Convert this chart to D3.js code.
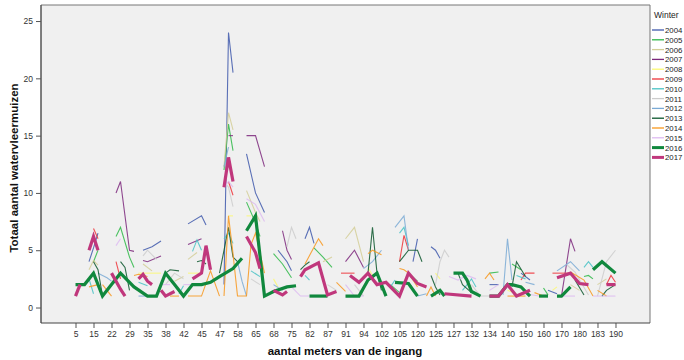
<!DOCTYPE html>
<html lang="en">
<head>
<meta charset="UTF-8">
<title>Totaal aantal watervleermuizen per winter</title>
<script src="https://d3js.org/d3.v7.min.js"></script>
<style>
  body { margin: 0; background: #fff; }
  svg { font-family: "Liberation Sans", Arial, sans-serif; }
  .tick text { fill: #333; font-size: 8.5px; }
  .tick line { stroke: #555; }
</style>
</head>
<body>
<svg width="684" height="360"></svg>
<script>
// labelled distances on the x axis; 3 unlabelled slots sit between every pair
const meters = [5, 15, 22, 29, 35, 38, 42, 45, 47, 58, 65, 68, 75, 82, 87, 91, 94,
                102, 105, 120, 125, 127, 132, 134, 140, 150, 160, 170, 180, 183, 190];
const slotsPerLabel = 4;
const yTicks = [0, 5, 10, 15, 20, 25];

const winters = ["2004", "2005", "2006", "2007", "2008", "2009", "2010",
                 "2011", "2012", "2013", "2014", "2015", "2016", "2017"];
const colors = ["#3e58ac", "#2eb848", "#d3ce97", "#7c287d", "#fbf873", "#ef3338", "#48c2c5",
                "#cccccc", "#7aaad5", "#0a562c", "#f8981d", "#ddbaf1", "#10883d", "#c0377c"];

// per winter: connected runs of [slot, count]
const w2004 = [[[3,4],[4,5.2],[5,6.5]], [[15,5],[17,5.3],[19,5.8]], [[25,7.3],[28,8],[29,7.2]],
  [[33,2],[34,24],[35,20.5]], [[38,13.4],[40,10],[42,8.3]], [[45,5],[47,4],[48,3.2]],
  [[51,6],[52,7],[53,5.6]], [[75,4],[76,6]], [[79,5.3],[80,5],[81,4.3]],
  [[92,2],[94,2]], [[99,3],[101,2.4]], [[105,1.5],[107,1.2]]];
const w2005 = [[[4,4],[5,5]], [[9,6.2],[10,7],[12,4.4],[13,3.5]], [[33,12],[34,16],[35,13.7]],
  [[38,9.2],[40,7.4],[41,6.2]], [[44,4.7],[46,3.8],[48,2.6]], [[53,5.2],[55,4.4],[57,3.5]],
  [[70,2],[72,1.3]], [[74,3],[76,2.3]], [[92,3],[94,3.1]], [[97,3.8],[99,3.3]],
  [[104,1.7],[105,1.1]], [[113,2.7],[114,2.8],[115,2.5]]];
const w2006 = [[[3,3.3],[4,4.1],[5,3.7]], [[15,3.8],[17,3.2]], [[22,2.3],[24,2.7]],
  [[25,4.2],[27,4.8]], [[33,12.3],[34,17],[35,15.5]], [[38,10.2],[40,8.3],[41,7.5]],
  [[55,4],[57,4.4]], [[60,6],[62,7],[64,4]], [[110,2],[112,1.5]], [[116,2],[118,2.5]]];
const w2007 = [[[9,10],[10,11],[12,5],[13,4.9]], [[15,4.1],[16,4],[19,4.5]], [[25,5.5],[28,6]],
  [[34,15],[35,15]], [[38,15],[40,15],[42,12.3]], [[46,6.7],[47,5],[48,4.2]],
  [[60,4],[62,5],[64,3.5]], [[108,1],[110,6],[111,4.9]]];
const w2008 = [[[14,3],[19,3]], [[25,3],[28,3]], [[34,8],[35,8]], [[38,8],[39,8]],
  [[44,2.5],[45,1.8]], [[65,3.5],[66,2.8]], [[80,3],[81,2.5]], [[96,1.5],[98,1.2]],
  [[106,1.5],[107,1.8]]];
const w2009 = [[[4,6.9],[5,6]], [[9,4],[10,2.5]], [[34,11],[35,9.8]], [[59,3],[62,3]],
  [[72,4],[73,6.3],[74,5]], [[99,2.4],[100,3],[102,3]], [[106,3],[110,3]],
  [[118,2],[119,2.8],[120,2.2]]];
const w2010 = [[[3,2.5],[4,1.2]], [[14,2.2],[16,1.9]], [[23,1.2],[24,1.9]],
  [[26,4.9],[27,5.9],[28,5]], [[33,6],[34,6.5],[35,5.6]], [[39,3.2],[41,2.7]],
  [[51,2.8],[52,2.4]], [[70,1.8],[71,2.4]], [[72,6.5],[73,7],[74,5.4]],
  [[86,1.5],[88,2.5],[89,1.8]], [[98,2.8],[100,2.5]], [[113,3.5],[114,4],[115,3.5]]];
const w2011 = [[[15,4.5],[16,5],[18,4.2]], [[20,2],[22,3],[24,2.5]], [[33,11],[34,10.5],[35,8.8]],
  [[39,2.5],[41,2]], [[47,5.3],[48,7],[49,6]], [[56,2],[58,1.5]], [[62,2],[64,1]],
  [[80,2],[81,4],[82,5],[83,4.4]], [[88,2],[90,1],[94,1]], [[109,3.8],[111,3.1],[114,1.1]],
  [[116,1],[118,4],[120,5]]];
const w2012 = [[[5,3],[7,2.6],[8,2.3]], [[14,1],[18,1]], [[33,12.3],[34,14]],
  [[36,4],[37,2.3],[38,1]], [[44,2],[46,1.5]], [[64,3.4],[66,4],[68,5]], [[71,7],[73,8],[74,5]],
  [[76,1],[78,1.2]], [[95,1.1],[96,6],[97,2.4]], [[100,2.2],[102,2]],
  [[107,3.2],[110,4],[112,3.2]]];
const w2013 = [[[4,4],[5,3.3],[6,1]], [[10,4],[11,3.5],[12,1.5]], [[20,3],[21,3.3],[23,3.2]],
  [[27,4],[28,4.1],[29,3.8]], [[32,3],[34,7],[35,4.4],[36,4],[37,4.2]], [[50,3.3],[51,3.7],[52,4]],
  [[65,3],[66,7],[67,3],[68,1.5]], [[72,4],[74,5],[76,5],[77,4]], [[79,2.8],[80,1.8],[81,1.1]],
  [[85,3],[86,2],[88,1.3]], [[97,1.8],[98,4],[100,2.7]], [[111,2.4],[113,1.1]],
  [[117,1],[118,1.5],[120,2]]];
const w2014 = [[[3,1.8],[5,2]], [[6,2],[8,1]], [[13,2.8],[14,2.9],[16,2.7]], [[21,1],[23,1]],
  [[25,1],[28,1],[30,3.2],[32,1]],
  [[33,1],[34,8],[35,4.7],[36,1],[38,1],[39,5.5],[40,6.5],[42,3]],
  [[51,3.8],[54,6],[55,5.4]], [[58,2.2],[60,1.4]], [[65,4.7],[66,5],[68,4.6]],
  [[72,3.4],[73,3.3],[74,3],[75,2.4],[76,1.8]], [[78,1],[79,1.8],[80,1]],
  [[91,2.5],[92,3],[93,2.4]], [[96,1],[100,1]], [[102,1.3],[104,1]],
  [[110,3.1],[113,2.4],[115,1]], [[116,1.5],[118,1]]];
const w2015 = [[[9,5.4],[10,6]], [[19,2],[21,2]], [[24,2],[27,2]], [[33,10.5],[34,11],[35,10.5]],
  [[38,9.5],[40,9],[42,7.5]], [[48,1.8],[50,1],[52,1]], [[60,2],[62,1],[64,1]],
  [[83,2.7],[85,2.4],[87,2.8],[89,2.5]], [[92,1.5],[94,2]], [[100,1.2],[103,1]],
  [[107,1],[111,1]], [[115,1],[120,1]]];
const w2016 = [
  [[0,2],[2,2],[4,3],[6,1],[8,2],[10,3],[13,1.8],[16,1],[18,1],[20,3],[22,2],[24,1],[26,2],
   [28,2],[30,2.2],[32,2.7],[35,3.4],[37,4.3]],
  [[38,6.7],[40,8],[42,1],[44,1.4],[47,1.8],[49,1.9]], [[52,1],[56,1]],
  [[60,1],[63,1],[65,2.4],[67,3],[69,1]], [[71,2.2],[74,2.1],[76,1]], [[79,1],[81,1.5],[82,1]],
  [[84,3],[86,3],[87,2.4],[88,1.4],[90,1]], [[92,1],[94,1],[96,2],[97,2],[99,1.8],[101,1]],
  [[103,1],[105,1]], [[107,1],[108,1],[110,1.8]], [[115,3.3],[117,4],[120,3]]];
const w2017 = [[[0,1],[1,2]], [[3,5],[4,6.2],[5,5]], [[8,3],[10,1.6],[11,1]],
  [[14,2.5],[15,2.9],[16,2.3],[17,2]], [[19,1.5],[20,1],[22,1.4]],
  [[26,2.5],[28,3],[29,5.4],[30,3.3]], [[33,10.5],[34,13.1],[35,11]],
  [[38,6.2],[40,4.8],[41,3.4]], [[44,1.5],[46,1.1],[47,1.4]],
  [[50,2.7],[51,3.3],[54,3.9],[56,1.1],[58,1.4]],
  [[61,2.8],[63,2.2],[65,3],[67,2],[69,2.2],[72,1],[74,3],[76,2.1],[78,1.8]],
  [[82,1.2],[88,1]], [[92,1],[94,1],[96,2],[98,1],[101,1.5]],
  [[107,2.6],[110,3],[112,2.1],[114,2]], [[118,2],[120,2]]];

const series = [w2004, w2005, w2006, w2007, w2008, w2009, w2010,
                w2011, w2012, w2013, w2014, w2015, w2016, w2017];

// plot frame
const plot = { left: 41, right: 650, top: 5, bottom: 323 };
const nSlots = (meters.length - 1) * slotsPerLabel + 1;

const svg = d3.select("svg");

const x = d3.scalePoint()
    .domain(d3.range(nSlots))
    .range([plot.left, plot.right])
    .padding(7.67);

const y = d3.scaleLinear()
    .domain([-1.35, 26.4])
    .range([plot.bottom, plot.top]);

svg.append("rect")
    .attr("x", plot.left)
    .attr("y", plot.top)
    .attr("width", plot.right - plot.left)
    .attr("height", plot.bottom - plot.top)
    .attr("fill", "#f0f0f0");

svg.append("clipPath").attr("id", "clip")
  .append("rect")
    .attr("x", plot.left)
    .attr("y", plot.top)
    .attr("width", plot.right - plot.left)
    .attr("height", plot.bottom - plot.top);

// axes
const yAxis = svg.append("g")
    .attr("transform", `translate(${plot.left},0)`)
    .call(d3.axisLeft(y).tickValues(yTicks).tickSize(5).tickPadding(3));
yAxis.select(".domain").remove();

const xAxis = svg.append("g")
    .attr("transform", `translate(0,${plot.bottom})`)
    .call(d3.axisBottom(x)
        .tickValues(d3.range(0, nSlots, slotsPerLabel))
        .tickFormat(i => meters[i / slotsPerLabel])
        .tickSize(5)
        .tickPadding(3));
xAxis.select(".domain").remove();

// lines
const line = d3.line()
    .x(d => x(d[0]))
    .y(d => y(d[1]));

const lines = svg.append("g").attr("clip-path", "url(#clip)");

series.forEach((runs, i) => {
    const thick = winters[i] === "2016" || winters[i] === "2017";
    lines.selectAll(null)
        .data(runs)
        .enter().append("path")
        .attr("d", line)
        .attr("fill", "none")
        .attr("stroke", colors[i])
        .attr("stroke-width", thick ? 3.2 : 1.1)
        .attr("stroke-linejoin", "miter")
        .attr("stroke-opacity", thick ? 1 : 0.85);
});

// frame on top
svg.append("path")
    .attr("d", `M${plot.left},${plot.bottom}V${plot.top}H${plot.right}V${plot.bottom}`)
    .attr("fill", "none")
    .attr("stroke", "#777")
    .attr("stroke-width", 1);
svg.append("line")
    .attr("x1", plot.left).attr("x2", plot.right)
    .attr("y1", plot.bottom).attr("y2", plot.bottom)
    .attr("stroke", "#444");
svg.append("line")
    .attr("x1", plot.left).attr("x2", plot.left)
    .attr("y1", plot.top).attr("y2", plot.bottom)
    .attr("stroke", "#444");

// axis titles
svg.append("text")
    .attr("x", 345)
    .attr("y", 355)
    .attr("text-anchor", "middle")
    .attr("font-size", 11.5)
    .attr("font-weight", "bold")
    .attr("fill", "#111")
    .text("aantal meters van de ingang");

svg.append("text")
    .attr("transform", "translate(18,168) rotate(-90)")
    .attr("text-anchor", "middle")
    .attr("font-size", 11.5)
    .attr("font-weight", "bold")
    .attr("fill", "#111")
    .text("Totaal aantal watervleermuizen");

// legend
const legend = svg.append("g").attr("transform", "translate(652,0)");
legend.append("text")
    .attr("x", 2).attr("y", 18)
    .attr("font-size", 8.5)
    .attr("fill", "#222")
    .text("Winter");

const items = legend.selectAll(".item")
    .data(winters)
    .enter().append("g")
    .attr("class", "item")
    .attr("transform", (d, i) => `translate(0,${30 + i * 9.8})`);

items.append("line")
    .attr("x1", 0).attr("x2", 12)
    .attr("stroke", (d, i) => colors[i])
    .attr("stroke-width", d => (d === "2016" || d === "2017") ? 3 : 1.3);

items.append("text")
    .attr("x", 13).attr("y", 3)
    .attr("font-size", 7.8)
    .attr("fill", "#222")
    .text(d => d);
</script>
</body>
</html>
